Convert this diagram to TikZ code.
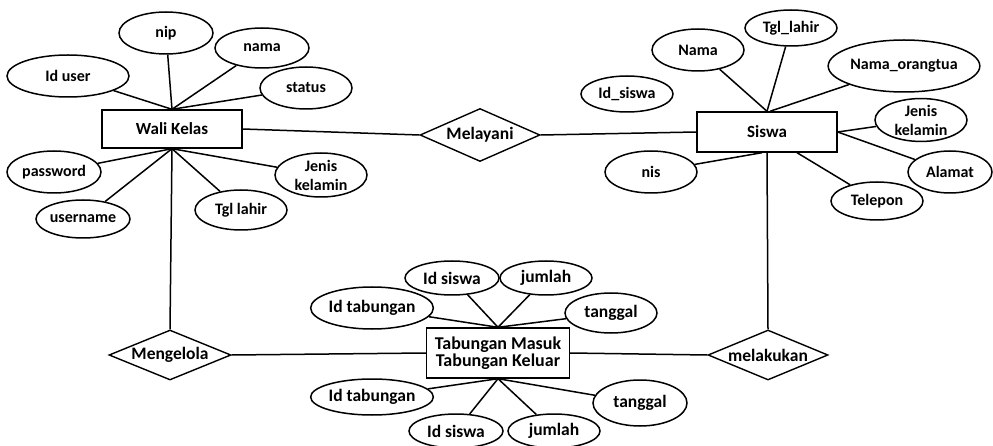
\documentclass[tikz,border=0pt]{standalone}
\usepackage{fontspec}
\setmainfont{Carlito}
\usetikzlibrary{shapes.geometric,calc}
\begin{document}
\begin{tikzpicture}[x=1pt,y=-1pt,
  every node/.style={font=\bfseries\fontsize{16}{19}\selectfont},
  attr/.style={draw,ellipse,line width=1.5pt,inner sep=0pt,align=center},
  battr/.style={attr,font=\bfseries\fontsize{17.5}{19}\selectfont},
  ent/.style={draw,rectangle,line width=1.4pt,inner sep=0pt,align=center,font=\bfseries\fontsize{17}{19}\selectfont},
  rel/.style={draw,diamond,line width=1.4pt,inner sep=0pt,aspect=2.4,font=\bfseries\fontsize{17.5}{20}\selectfont},
  conn/.style={line width=1.5pt}]
\useasboundingbox (0,0) rectangle (993,446);
% Wali Kelas cluster
\node[ent,minimum width=140,minimum height=38] (wali) at (172,129) {Wali Kelas};
\node[attr,minimum width=94,minimum height=42] (nip) at (166,33) {nip};
\node[attr,minimum width=94,minimum height=40] (nama) at (262,48) {nama};
\node[attr,minimum width=122,minimum height=42] (iduser) at (68,76) {Id user};
\node[attr,minimum width=92,minimum height=42] (status) at (306,88) {status};
\node[attr,minimum width=94,minimum height=42] (password) at (54,172) {password};
\node[attr,minimum width=94,minimum height=38] (username) at (83,219) {username};
\node[attr,minimum width=92,minimum height=40] (tgllahirw) at (241,210) {Tgl lahir};
\node[attr,minimum width=92,minimum height=44] (jkw) at (321,175) {Jenis\\kelamin};
\draw[conn] (wali.north) -- (iduser);
\draw[conn] (wali.north) -- (nip);
\draw[conn] (wali.north) -- (nama);
\draw[conn] (wali.north) -- (status);
\draw[conn] (wali.south) -- (password);
\draw[conn] (wali.south) -- (username);
\draw[conn] (wali.south) -- (tgllahirw);
\draw[conn] (wali.south) -- (jkw);
% Siswa cluster
\node[ent,minimum width=140,minimum height=40] (siswa) at (767,132) {Siswa};
\node[attr,minimum width=92,minimum height=36] (tgllahirs) at (791,28) {Tgl\_lahir};
\node[attr,minimum width=92,minimum height=42] (namas) at (698,50) {Nama};
\node[attr,minimum width=118,minimum height=52] (ortu) at (904,66) {Nama\_orangtua};
\node[attr,minimum width=92,minimum height=36] (idsiswa) at (627,94) {Id\_siswa};
\node[attr,minimum width=92,minimum height=36] (jks) at (921,120) {Jenis\\kelamin};
\node[attr,minimum width=84,minimum height=42] (alamat) at (950,172) {Alamat};
\node[attr,minimum width=92,minimum height=38] (telepon) at (877,201) {Telepon};
\node[attr,minimum width=92,minimum height=42] (nis) at (651,172) {nis};
\draw[conn] (siswa.north) -- (namas);
\draw[conn] (siswa.north) -- (tgllahirs);
\draw[conn] ($(siswa.north)+(3,0)$) -- (ortu);
\draw[conn] (siswa.east) -- (jks);
\draw[conn] (siswa.east) -- (alamat);
\draw[conn] ($(siswa.south)+(30,0)$) -- (telepon);
\draw[conn] ($(siswa.south)+(-5,0)$) -- (nis);
% Tabungan cluster
\node[ent,minimum width=143,minimum height=50,font=\bfseries\fontsize{18}{17}\selectfont] (tm) at (498,353) {Tabungan Masuk\\Tabungan Keluar};
\node[battr,minimum width=94,minimum height=34] (idsiswat) at (452,278) {Id siswa};
\node[battr,minimum width=92,minimum height=34] (jumlaht) at (546,278) {jumlah};
\node[battr,minimum width=94,minimum height=42] (idtabt) at (372,308) {Id tabungan};
\node[battr,minimum width=92,minimum height=40] (tanggalt) at (611,313) {tanggal};
\node[battr,minimum width=94,minimum height=36] (idtabb) at (372,397) {Id tabungan};
\node[battr,minimum width=94,minimum height=46] (tanggalb) at (640,403) {tanggal};
\node[battr,minimum width=94,minimum height=34] (idsiswab) at (456,431) {Id siswa};
\node[battr,minimum width=92,minimum height=34] (jumlahb) at (554,431) {jumlah};
\draw[conn] (tm.north) -- (idtabt);
\draw[conn] (tm.north) -- (idsiswat);
\draw[conn] (tm.north) -- (jumlaht);
\draw[conn] (tm.north) -- (tanggalt);
\draw[conn] (tm.south) -- (idtabb);
\draw[conn] (tm.south) -- (idsiswab);
\draw[conn] (tm.south) -- (jumlahb);
\draw[conn] (tm.south) -- (tanggalb);
% Relationships
\node[rel,minimum width=120,minimum height=53] (melayani) at (480,135) {Melayani};
\node[rel,minimum width=122,minimum height=50] (mengelola) at (170,355) {Mengelola};
\node[rel,minimum width=120,minimum height=50] (melakukan) at (768,355) {melakukan};
\draw[conn] (wali.east) -- (melayani.west);
\draw[conn] (melayani.east) -- (siswa.west);
\draw[conn] (wali.south) -- (mengelola.north);
\draw[conn] (mengelola.east) -- (tm.west);
\draw[conn] (siswa.south) -- (melakukan.north);
\draw[conn] (tm.east) -- (melakukan.west);
\end{tikzpicture}
\end{document}
